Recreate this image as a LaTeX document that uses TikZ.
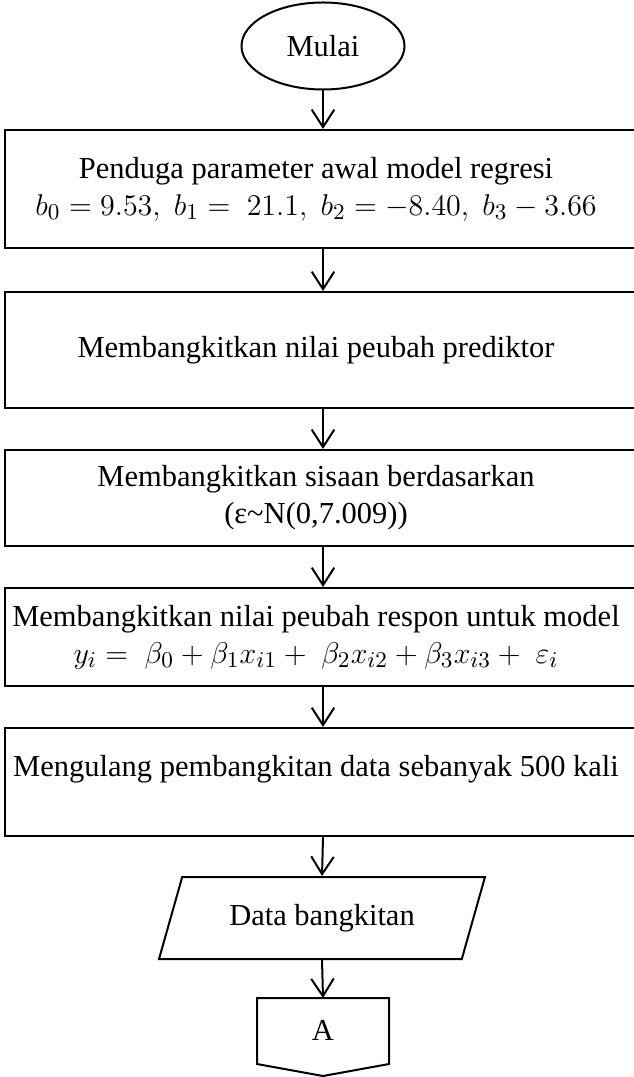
\documentclass[tikz,border=0pt]{standalone}
\usepackage{fontspec}
\setmainfont{Liberation Serif}
\usetikzlibrary{arrows.meta,shapes.geometric}
\tikzset{
  every node/.style={font=\fontsize{12.2}{14.8}\selectfont},
  procbox/.style={draw, line width=0.8pt, rectangle, minimum width=254.4pt, inner sep=0pt},
  boxtext/.style={align=center, inner sep=0pt},
  flowarrow/.style={line width=0.8pt, -{Straight Barb[length=7pt,width=9pt,line width=0.8pt]}},
  shapeline/.style={draw, line width=0.8pt},
}
\newcommand{\mathline}[1]{{\fontsize{13}{14.8}\selectfont$#1$}}
\begin{document}
\begin{tikzpicture}[x=0.4pt,y=-0.4pt]
\useasboundingbox (0,0) rectangle (633,1077);
\node[shapeline, ellipse, minimum width=65.2pt, minimum height=34.8pt, inner sep=0pt] (start) at (323,46) {Mulai};
\node[procbox, minimum height=47.2pt] (b1) at (323,189) {};
\node[boxtext] (b1t) at (316,189) {Penduga parameter awal model regresi\\
  \mathline{b_0 = 9.53,\; b_1 =\ 21.1,\; b_2 = -8.40,\; b_3 - 3.66}};
\node[procbox, minimum height=46.4pt] (b2) at (323,350) {};
\node[boxtext] (b2t) at (316,350) {Membangkitkan nilai peubah prediktor};
\node[procbox, minimum height=38.4pt] (b3) at (323,498) {};
\node[boxtext] (b3t) at (316,498) {Membangkitkan sisaan berdasarkan\\
  (ε\textasciitilde N(0,7.009))};
\node[procbox, minimum height=39.2pt] (b4) at (323,637) {};
\node[boxtext] (b4t) at (316,637) {Membangkitkan nilai peubah respon untuk model\\
  \mathline{y_i =\ \beta_0 + \beta_1 x_{i1} +\ \beta_2 x_{i2} + \beta_3 x_{i3} +\ \varepsilon_i}};
\node[procbox, minimum height=43.2pt] (b5) at (323,782) {};
\node[boxtext] (b5t) at (316,769) {Mengulang pembangkitan data sebanyak 500 kali};
\node[shapeline, trapezium, trapezium stretches=true, trapezium left angle=61, trapezium right angle=119,
  minimum width=131.2pt, minimum height=32.8pt, inner sep=0pt] (data) at (322,918) {Data bangkitan};
\coordinate (atop) at (323,998);
\draw[line width=0.8pt] (257,998) -- (389,998) -- (389,1064) -- (323,1076) -- (257,1064) -- cycle;
\node (conA) at (323,1030) {A};
\draw[flowarrow] (start.south) -- (b1.north);
\draw[flowarrow] (b1.south) -- (b2.north);
\draw[flowarrow] (b2.south) -- (b3.north);
\draw[flowarrow] (b3.south) -- (b4.north);
\draw[flowarrow] (b4.south) -- (b5.north);
\draw[flowarrow] (b5.south) -- (data.north);
\draw[flowarrow] (data.south) -- (atop);
\end{tikzpicture}
\end{document}
